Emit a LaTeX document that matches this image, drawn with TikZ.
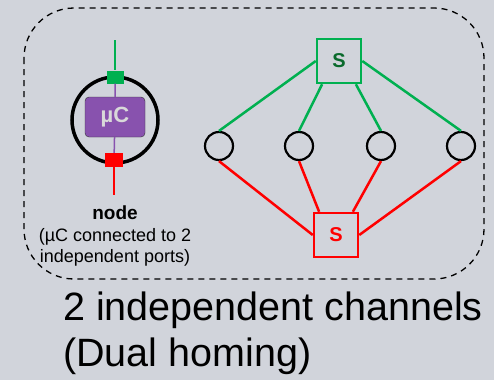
\documentclass[tikz,border=0pt]{standalone}
\usepackage{fontspec}
\setmainfont{Liberation Sans}
\usetikzlibrary{positioning}
\definecolor{bg}{HTML}{D1D4DB}
\definecolor{chgreen}{HTML}{00B050}
\definecolor{chred}{HTML}{FF0000}
\definecolor{sgreen}{HTML}{0A6A2C}
\definecolor{ucpurple}{HTML}{8852AE}
\definecolor{uctext}{HTML}{D9D9D9}
\begin{document}
\begin{tikzpicture}[x=1pt,y=-1pt,
    port/.style={draw=none,minimum width=17pt,minimum height=13pt,inner sep=0pt},
    switchbox/.style={draw,line width=2.5pt,minimum size=44pt,inner sep=0pt,font=\fontsize{20}{22}\selectfont\bfseries},
    endnode/.style={draw,circle,line width=2.2pt,minimum size=28pt,inner sep=0pt},
    greenlink/.style={chgreen,line width=2.5pt},
    redlink/.style={chred,line width=2.5pt},
    caption/.style={anchor=base west,inner sep=0pt,font=\fontsize{39.5}{46}\selectfont}]
    % background
    \fill [bg] (0,0) rectangle (494,380);
    \draw [dashed,line width=1.3pt,dash pattern=on 6pt off 5pt,rounded corners=50pt] (24,8) rectangle (484,279);
    % node with two ports
    \coordinate (gtop) at (115,40);
    \coordinate (rbot) at (114,195);
    \node (mc) [draw,circle,line width=3.5pt,minimum size=86pt,inner sep=0pt] at (115,120) {};
    \node (uc) [draw=black!80,fill=ucpurple,rounded corners=4pt,minimum width=60pt,minimum height=40pt,
        text=uctext,font=\fontsize{22}{24}\selectfont\bfseries] at (115,117) {µC};
    \node (gp) [port,fill=chgreen] at (115,77) {};
    \node (rp) [port,fill=chred,minimum width=18pt,minimum height=14pt] at (114,160) {};
    \draw [greenlink] (gtop) -- (gp);
    \draw [redlink] (rp) -- (rbot);
    \draw [ucpurple,line width=1.5pt] (gp) -- (uc) (uc) -- (rp);
    \node (nlabel) [font=\fontsize{19}{21}\selectfont\bfseries] at (115,213) {node};
    \node (ndesc) [align=center,font=\fontsize{18}{21.5}\selectfont,below=1pt of nlabel] {(µC connected to 2\\independent ports)};
    % switches and end nodes
    \node (sg) [switchbox,draw=chgreen,text=sgreen] at (339,61) {S};
    \node (sr) [switchbox,draw=chred,text=chred] at (336,235) {S};
    \foreach \i/\x in {1/219,2/299,3/381,4/461}
        \node (e\i) [endnode] at (\x,146) {};
    \draw [greenlink] (sg.west) -- (e1.north) (sg.-126) -- (e2.north) (sg.-54) -- (e3.north) (sg.east) -- (e4.north);
    \draw [redlink] (e1.south) -- (sr.west) (e2.south) -- (sr.126) (e3.south) -- (sr.54) (e4.south) -- (sr.east);
    % caption
    \node (cap1) [caption] at (63,320) {2 independent channels};
    \node (cap2) [caption] at (63,366) {(Dual homing)};
\end{tikzpicture}
\end{document}
